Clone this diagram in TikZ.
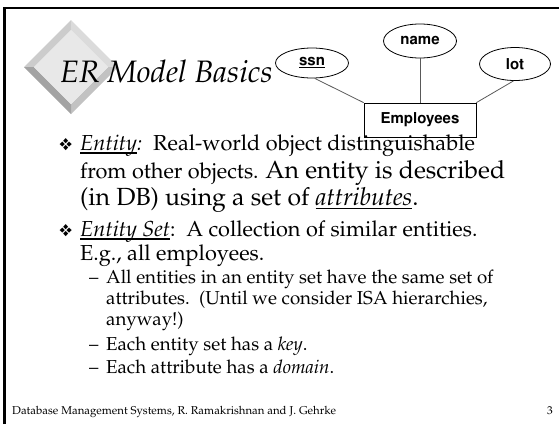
\documentclass[tikz,border=0pt]{standalone}
\usepackage[T1]{fontenc}
\usepackage{mathpazo}
\usepackage{helvet}
\usepackage{pifont}
\usetikzlibrary{shapes.geometric}

\newcommand{\fsize}[1]{\fontsize{#1}{#1}\selectfont}
\newcommand{\ulined}[1]{\setbox0=\hbox{#1}\rlap{\rule[-0.17em]{\wd0}{0.065em}}\box0}

\definecolor{bevtl}{gray}{0.80}
\definecolor{bevtr}{gray}{0.86}
\definecolor{bevbr}{gray}{0.76}
\definecolor{bevbl}{gray}{0.64}
\definecolor{face}{gray}{0.91}

\begin{document}
\begin{tikzpicture}[x=1pt,y=-1pt]

      \useasboundingbox (0,0) rectangle (559,424);

      % slide frame
      \draw[line width=2.6pt] (4.3,424) -- (4.3,8) -- (559,8);

      % bevelled diamond behind the title
      \fill[bevtl] (24,67) -- (71,20) -- (71,30) -- (34,67) -- cycle;
      \fill[bevtr] (71,20) -- (118,67) -- (108,67) -- (71,30) -- cycle;
      \fill[bevbr] (118,67) -- (71,114) -- (71,104) -- (108,67) -- cycle;
      \fill[bevbl] (71,114) -- (24,67) -- (34,67) -- (71,104) -- cycle;
      \fill[face] (71,30) -- (108,67) -- (71,104) -- (34,67) -- cycle;

      \node[anchor=base west,inner sep=0pt,font=\fsize{31}\itshape] (title) at (60,82) {ER Model Basics};

      \begin{scope}[every node/.style={draw,line width=0.8pt,font=\fsize{15}\sffamily\bfseries}]
        \node[ellipse,minimum width=73,minimum height=30] (ssn)  at (312,63) {\ulined{ssn}};
        \node[ellipse,minimum width=73,minimum height=34] (name) at (420,41) {name};
        \node[ellipse,minimum width=71,minimum height=33] (lot)  at (515,64) {lot};
        \node[rectangle,minimum width=112,minimum height=34] (emp) at (420,120) {Employees};
      \end{scope}

      \begin{scope}[every edge/.style={draw,gray!70!black,line width=0.8pt}]
        \path (ssn.-80)  edge (emp.north west);
        \path (name.south) edge (emp.north);
        \path (lot.-95)  edge (emp.north east);
      \end{scope}

      \begin{scope}[every node/.style={anchor=base west,inner sep=0pt,font=\fsize{21.7}}]
        \node[font=\fsize{17}] (b1) at (59,150) {\ding{118}};
        \node (1) at (80,150) {\ulined{\textit{Entity}}\textit{:}\ \ Real-world object distinguishable};
        \node (2) at (80,178) {from other objects. {\fsize{24.8}An entity is described}};
        \node[font=\fsize{24.8}] (3) at (80,205) {(in DB) using a set of \ulined{\textit{attributes}}.};
        \node[font=\fsize{17}] (b2) at (59,236) {\ding{118}};
        \node (4) at (80,236) {\ulined{\textit{Entity Set}}:\ \ A collection of similar entities.};
        \node (5) at (80,260) {E.g., all employees.};
      \end{scope}

      \begin{scope}[every node/.style={anchor=base west,inner sep=0pt,font=\fsize{18.7}}]
        \node (d1) at (89,283) {\textendash};
        \node (6)  at (106,283) {All entities in an entity set have the same set of};
        \node (7)  at (106,304) {attributes.\ \ (Until we consider ISA hierarchies,};
        \node (8)  at (106,325) {anyway!)};
        \node (d2) at (89,350) {\textendash};
        \node (9)  at (106,350) {Each entity set has a \textit{key}.};
        \node (d3) at (89,373) {\textendash};
        \node (10) at (106,373) {Each attribute has a \textit{domain}.};
      \end{scope}

      % footer
      \node[anchor=base west,inner sep=0pt,font=\fsize{11.4}] (foot) at (12,414) {Database Management Systems, R. Ramakrishnan and J. Gehrke};
      \node[anchor=base east,inner sep=0pt,font=\fsize{11.4}] (page) at (553,414) {3};

    \end{tikzpicture}
\end{document}
